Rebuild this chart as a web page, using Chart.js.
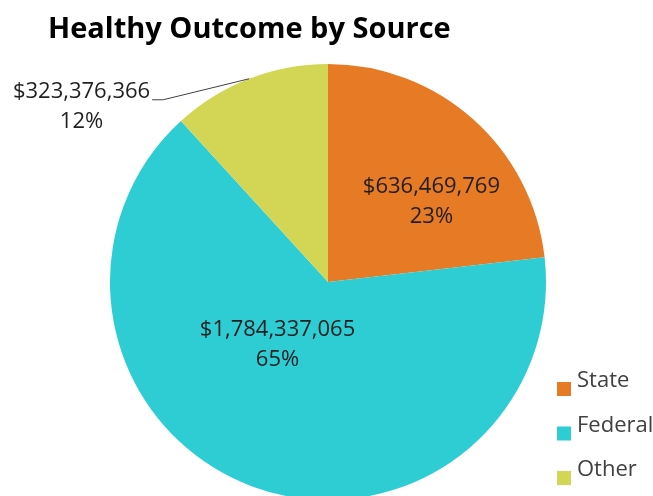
<!DOCTYPE html>
<html>
<head>
<meta charset="utf-8">
<title>Healthy Outcome by Source</title>
<script src="https://cdn.jsdelivr.net/npm/chart.js@4.4.1/dist/chart.umd.min.js"></script>
<style>
    html, body { margin: 0; padding: 0; background: #fff; overflow: hidden; }
    #wrap { width: 653px; height: 496px; position: relative; }
</style>
</head>
<body>
<div id="wrap"><canvas id="sourceChart"></canvas></div>
<script>
// Funding amounts by source
const sources = ['State', 'Federal', 'Other'];
const amounts = [636469769, 1784337065, 323376366];
const percentLabels = ['23%', '65%', '12%'];
const sliceColors = ['#E77A24', '#2ECCD3', '#D3D655'];

const FONT = '"Open Sans", "Noto Sans", sans-serif';

function formatDollars(v) {
    return '$' + v.toLocaleString('en-US');
}

// Where each slice label sits: inside labels use an angle shift (deg) and a
// fraction of the radius; the outside label hangs off a leader line.
const labelPlacement = [
    { inside: true, shift: 10.5, frac: 0.60 },
    { inside: true, shift: 18.2, frac: 0.37 },
    { inside: false, elbowDx: -86, elbowDy: 21, tail: 11 }
];

const sliceLabels = {
    id: 'sliceLabels',
    afterDatasetsDraw(chart) {
        const ctx = chart.ctx;
        const meta = chart.getDatasetMeta(0);
        ctx.save();
        ctx.font = '22px ' + FONT;
        ctx.fillStyle = '#1f1f1f';
        ctx.textBaseline = 'middle';
        meta.data.forEach((arc, i) => {
            const p = labelPlacement[i];
            const mid = (arc.startAngle + arc.endAngle) / 2;
            const line1 = formatDollars(amounts[i]);
            const line2 = percentLabels[i];
            if (p.inside) {
                const a = mid + p.shift * Math.PI / 180;
                const r = arc.outerRadius * p.frac;
                const cx = arc.x + Math.cos(a) * r;
                const cy = arc.y + Math.sin(a) * r;
                ctx.textAlign = 'center';
                ctx.fillText(line1, cx, cy - 15);
                ctx.fillText(line2, cx, cy + 15);
            } else {
                const ex = arc.x + Math.cos(mid) * arc.outerRadius;
                const ey = arc.y + Math.sin(mid) * arc.outerRadius;
                const bx = ex + p.elbowDx;
                const by = ey + p.elbowDy;
                const tx = bx - p.tail;
                ctx.strokeStyle = '#404040';
                ctx.lineWidth = 1;
                ctx.beginPath();
                ctx.moveTo(ex, ey);
                ctx.lineTo(bx, by);
                ctx.lineTo(tx, by);
                ctx.stroke();
                const w = ctx.measureText(line1).width;
                const cx = tx - 2 - w / 2;
                ctx.textAlign = 'center';
                ctx.fillText(line1, cx, by - 8);
                ctx.fillText(line2, cx, by + 22);
            }
        });
        ctx.restore();
    }
};

// Legend stacked in the lower right corner
const cornerLegend = {
    id: 'cornerLegend',
    afterDraw(chart) {
        const ctx = chart.ctx;
        const colors = chart.data.datasets[0].backgroundColor;
        ctx.save();
        ctx.font = '22px ' + FONT;
        ctx.textAlign = 'left';
        ctx.textBaseline = 'alphabetic';
        chart.data.labels.forEach((label, i) => {
            const base = 387 + i * 44.5;
            ctx.fillStyle = colors[i];
            ctx.fillRect(557, base - 5, 14, 14);
            ctx.fillStyle = '#404040';
            ctx.fillText(label, 577, base);
        });
        ctx.restore();
    }
};

const chart = new Chart(document.getElementById('sourceChart'), {
    type: 'pie',
    data: {
        labels: sources,
        datasets: [{
            data: amounts,
            backgroundColor: sliceColors,
            borderWidth: 0,
            radius: 218,
            clip: false
        }]
    },
    options: {
        responsive: true,
        maintainAspectRatio: false,
        animation: false,
        layout: { padding: { left: 48, right: 45, top: 0, bottom: 0 } },
        plugins: {
            legend: { display: false },
            tooltip: { enabled: false },
            title: {
                display: true,
                text: 'Healthy Outcome by Source',
                align: 'start',
                color: '#000',
                font: { family: FONT, size: 29, weight: 'bold', lineHeight: 1.2 },
                padding: { top: 12, bottom: 21.2 }
            }
        }
    },
    plugins: [sliceLabels, cornerLegend]
});
</script>
</body>
</html>
